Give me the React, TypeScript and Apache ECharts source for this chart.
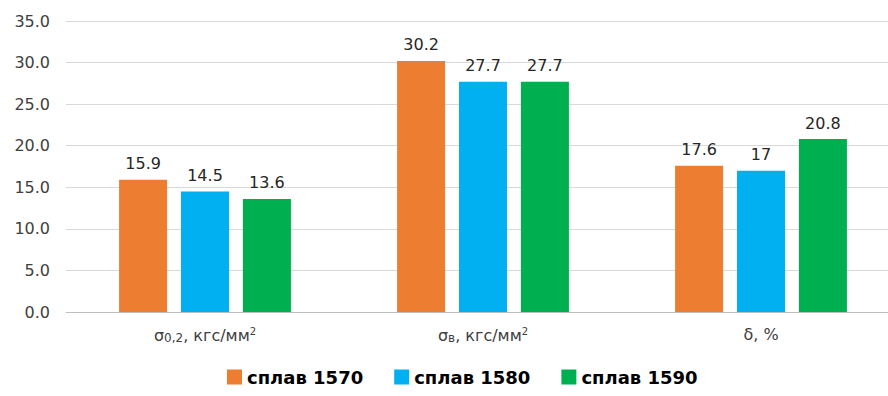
import React, { useEffect, useRef } from "react";
import * as echarts from "echarts";

const categories = ["σ0,2", "σв", "δ"];
const categoryLabels = [
  "{s|σ}{sub|0,2}{s|, кгс/мм}{sup|2}",
  "{s|σ}{sub|в}{s|, кгс/мм}{sup|2}",
  "{s|δ, %}",
];
const seriesNames = ["сплав 1570", "сплав 1580", "сплав 1590"];
const alloy1570 = [15.9, 30.2, 17.6];
const alloy1580 = [14.5, 27.7, 17];
const alloy1590 = [13.6, 27.7, 20.8];
const colors = ["#ED7D31", "#00B0F0", "#00B050"];
const yTicks = { min: 0, max: 35, interval: 5 };

const FONT = "'DejaVu Sans', Verdana, sans-serif";
const TEXT = "#404040";

export default function App() {
  const ref = useRef<HTMLDivElement>(null);

  useEffect(() => {
    if (!ref.current) return;
    const chart = echarts.init(ref.current, undefined, { renderer: "svg" });
    const values = [alloy1570, alloy1580, alloy1590];
    chart.setOption({
      animation: false,
      textStyle: { fontFamily: FONT },
      grid: { left: 66, top: 21, right: 0, height: 291, containLabel: false },
      legend: {
        bottom: 5,
        left: 222,
        itemWidth: 15,
        itemHeight: 15,
        itemGap: 31,
        icon: "rect",
        textStyle: { fontFamily: FONT, fontWeight: "bold", fontSize: 18, color: "#000" },
        data: seriesNames,
      },
      xAxis: {
        type: "category",
        data: categories,
        axisLine: { lineStyle: { color: "#bfbfbf", width: 1 } },
        axisTick: { show: false },
        axisLabel: {
          interval: 0,
          margin: 14,
          formatter: (_v: string, i: number) => categoryLabels[i],
          rich: {
            s: { fontFamily: FONT, fontSize: 16, color: TEXT },
            sub: { fontFamily: FONT, fontSize: 12, color: TEXT, verticalAlign: "bottom", padding: [4, 0, 0, 0] },
            sup: { fontFamily: FONT, fontSize: 10, color: TEXT, verticalAlign: "top", padding: [0, 0, 8, 0] },
          },
        },
      },
      yAxis: {
        type: "value",
        min: yTicks.min,
        max: yTicks.max,
        interval: yTicks.interval,
        axisLine: { show: false },
        axisTick: { show: false },
        splitLine: { lineStyle: { color: "#d9d9d9", width: 1 } },
        axisLabel: {
          margin: 16,
          fontSize: 16,
          color: TEXT,
          fontFamily: FONT,
          formatter: (v: number) => v.toFixed(1),
        },
      },
      series: seriesNames.map((name, i) => ({
        name,
        type: "bar",
        data: values[i],
        barWidth: 48,
        barGap: "29%",
        barCategoryGap: "38%",
        itemStyle: { color: colors[i] },
        label: {
          show: true,
          position: "top",
          distance: 8,
          fontSize: 16,
          color: "#262626",
          fontFamily: FONT,
          formatter: (p: any) => String(p.value),
        },
      })),
    });
    return () => chart.dispose();
  }, []);

  return (
    <div style={{ position: "absolute", left: 0, top: 0, width: 888, height: 396, overflow: "hidden", background: "#fff" }}>
      <div ref={ref} style={{ width: 900, height: 396 }} />
    </div>
  );
}
